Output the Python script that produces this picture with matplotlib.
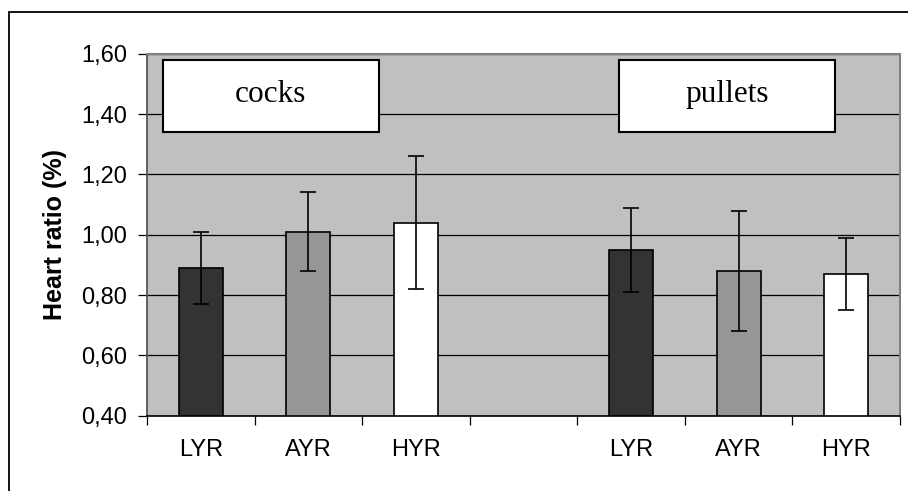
import matplotlib
matplotlib.use("Agg")
import matplotlib.pyplot as plt
from matplotlib.patches import Rectangle

# data
categories = ["LYR", "AYR", "HYR", "", "LYR", "AYR", "HYR"]
means = [0.89, 1.01, 1.04, None, 0.95, 0.88, 0.87]
errors = [0.12, 0.13, 0.22, None, 0.14, 0.20, 0.12]
bar_colors = ["#333333", "#969696", "#ffffff", None, "#333333", "#969696", "#ffffff"]
y_ticks = [0.40, 0.60, 0.80, 1.00, 1.20, 1.40, 1.60]
group_labels = ["cocks", "pullets"]

plt.rcParams["font.family"] = ["Liberation Sans", "DejaVu Sans"]

fig = plt.figure(figsize=(9.08, 4.91), dpi=100)
fig.patch.set_facecolor("white")

# outer chart frame (right/bottom edges fall outside the image)
fig.add_artist(Rectangle((9 / 908, -0.05), 1.0, 1 - 12 / 491 + 0.05,
                         transform=fig.transFigure, fill=False,
                         edgecolor="black", linewidth=1.3))

ax = fig.add_axes([147 / 908, 1 - 415.7 / 491, (900 - 147) / 908, (415.7 - 53.7) / 491])
ax.set_facecolor("#c0c0c0")

for i, (m, e, c) in enumerate(zip(means, errors, bar_colors)):
    if m is None:
        continue
    ax.bar(i, m - 0.40, bottom=0.40, width=0.41, color=c, edgecolor="black",
           linewidth=1.2, zorder=3)
    ax.errorbar(i, m, yerr=e, fmt="none", ecolor="black", elinewidth=1.2,
                capsize=5.5, capthick=1.2, zorder=4)

ax.set_xlim(-0.5, len(categories) - 0.5)
ax.set_ylim(0.40, 1.60)
ax.set_yticks(y_ticks)
ax.set_yticklabels([f"{v:.2f}".replace(".", ",") for v in y_ticks])
ax.yaxis.grid(True, color="black", linewidth=0.9, zorder=1)
ax.set_axisbelow(True)

# ticks between categories, labels centred under bars
ax.set_xticks([i + 0.5 for i in range(-1, len(categories))])
ax.set_xticklabels([])
ax.set_xticks(range(len(categories)), minor=True)
ax.set_xticklabels(categories, minor=True)
ax.tick_params(axis="x", which="minor", length=0, pad=17, labelsize=17)
ax.tick_params(axis="x", which="major", length=6.5, width=0.9, direction="out")
ax.tick_params(axis="y", length=6.5, width=0.9, pad=8, labelsize=17)

for side in ["top", "right"]:
    ax.spines[side].set_color("#808080")
    ax.spines[side].set_linewidth(1.5)
ax.spines["left"].set_color("#555555")
ax.spines["left"].set_linewidth(1.3)
ax.spines["bottom"].set_color("black")
ax.spines["bottom"].set_linewidth(1.2)

ax.set_ylabel("Heart ratio (%)", fontsize=18, fontweight="bold", labelpad=10)

# group labels in white boxes
for label, (x0, x1) in zip(group_labels, [(-0.354, 1.657), (3.885, 5.899)]):
    ax.add_patch(Rectangle((x0, 1.339), x1 - x0, 1.578 - 1.339, facecolor="white",
                           edgecolor="black", linewidth=1.5, zorder=5))
    ax.text((x0 + x1) / 2, 1.441, label, ha="center", va="baseline", fontsize=22.5,
            family=["Liberation Serif", "DejaVu Serif"], zorder=6)

fig.savefig("out.png", dpi=100)
